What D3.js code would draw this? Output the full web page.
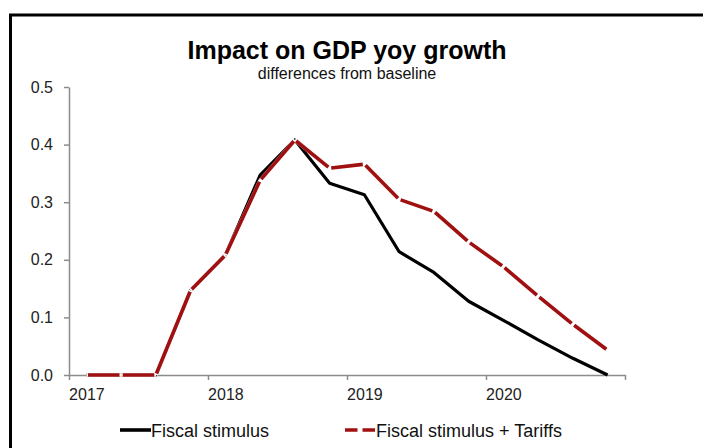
<!DOCTYPE html>
<html>
<head>
<meta charset="utf-8">
<script src="https://cdn.jsdelivr.net/npm/d3@7"></script>
<style>
  html, body { margin: 0; padding: 0; background: #fff; }
  svg { display: block; font-family: "Liberation Sans", Arial, sans-serif; }
</style>
</head>
<body>
<svg id="chart" width="703" height="448"></svg>
<script>
// ---- data ----
const quarters = [
  "2017Q1","2017Q2","2017Q3","2017Q4",
  "2018Q1","2018Q2","2018Q3","2018Q4",
  "2019Q1","2019Q2","2019Q3","2019Q4",
  "2020Q1","2020Q2","2020Q3","2020Q4"
];
const fiscalStimulus = [0, 0, 0, 0.147, 0.208, 0.347, 0.408, 0.333, 0.313, 0.214, 0.178, 0.128, 0.095, 0.061, 0.029, 0.0];
const fiscalTariffs  = [0, 0, 0, 0.147, 0.208, 0.338, 0.408, 0.359, 0.366, 0.305, 0.284, 0.231, 0.188, 0.137, 0.088, 0.043];
const yearTicks = [2017, 2018, 2019, 2020, 2021];
const yearLabels = ["2017", "2018", "2019", "2020", ""];
const yTicks = [0, 0.1, 0.2, 0.3, 0.4, 0.5];
const seriesNames = ["Fiscal stimulus", "Fiscal stimulus + Tariffs"];

const title = "Impact on GDP yoy growth";
const subtitle = "differences from baseline";

(function () {
// ---- layout ----
const svg = d3.select("#chart");
const plotLeft = 69, plotRight = 625, plotTop = 87, plotBottom = 375;
const red = "#a01010";
const axisColor = "#8c8c8c";

// frame
svg.append("rect")
  .attr("x", 10.5).attr("y", 15).attr("width", 800).attr("height", 500)
  .attr("fill", "none").attr("stroke", "#000").attr("stroke-width", 3);

// title
svg.append("text").attr("x", 347).attr("y", 59)
  .attr("text-anchor", "middle").attr("font-size", 25).attr("font-weight", "bold")
  .attr("fill", "#000").text(title);
svg.append("text").attr("x", 347).attr("y", 79)
  .attr("text-anchor", "middle").attr("font-size", 16).attr("fill", "#111").text(subtitle);

// scales
const x = d3.scaleLinear().domain([2017, 2021]).range([plotLeft, plotRight]);
const y = d3.scaleLinear().domain([0, 0.5]).range([plotBottom, plotTop]);
const xq = i => x(2017 + (i + 0.5) / 4);
const halfQ = (x(2018) - x(2017)) / 8;

// x axis
const gx = svg.append("g").attr("transform", `translate(0,${plotBottom})`)
  .call(d3.axisBottom(x).tickValues(yearTicks)
    .tickFormat((d, i) => yearLabels[i]).tickSizeInner(5).tickSizeOuter(0).tickPadding(9));
gx.select(".domain").attr("stroke", axisColor).attr("stroke-width", 1.5);
gx.selectAll(".tick line").attr("stroke", axisColor).attr("stroke-width", 1.5);
gx.selectAll(".tick text").attr("x", halfQ).attr("font-size", 16)
  .attr("font-family", "Liberation Sans, Arial, sans-serif").attr("fill", "#222");

// y axis
const gy = svg.append("g").attr("transform", `translate(${plotLeft},0)`)
  .call(d3.axisLeft(y).tickValues(yTicks).tickFormat(d3.format(".1f"))
    .tickSizeInner(5).tickSizeOuter(0).tickPadding(11));
gy.select(".domain").attr("stroke", axisColor).attr("stroke-width", 1.5);
gy.selectAll(".tick line").attr("stroke", axisColor).attr("stroke-width", 1.5);
gy.selectAll(".tick text").attr("font-size", 16)
  .attr("font-family", "Liberation Sans, Arial, sans-serif").attr("fill", "#222");

// black line
const line = d3.line().x((d, i) => xq(i)).y(d => y(d));
svg.append("path").datum(fiscalStimulus)
  .attr("d", line).attr("fill", "none").attr("stroke", "#000")
  .attr("stroke-width", 3.2).attr("stroke-linejoin", "round");

// red dashed line: white underlay so gaps read white, then segments with a small gap at each vertex
const segs = d3.range(fiscalTariffs.length - 1).map(i => ({
  x1: xq(i), y1: y(fiscalTariffs[i]), x2: xq(i + 1), y2: y(fiscalTariffs[i + 1])
}));
const redG = svg.append("g");
redG.selectAll("line.under").data(segs).join("line").attr("class", "under")
  .attr("x1", d => d.x1).attr("y1", d => d.y1)
  .attr("x2", d => d.x2).attr("y2", d => d.y2)
  .attr("stroke", "#fff").attr("stroke-width", 3.6);
redG.selectAll("line.seg").data(segs).join("line").attr("class", "seg")
  .attr("x1", d => d.x1).attr("y1", d => d.y1)
  .attr("x2", d => d.x2).attr("y2", d => d.y2)
  .attr("stroke", red).attr("stroke-width", 3.6)
  .attr("stroke-dasharray", d => {
    const len = Math.hypot(d.x2 - d.x1, d.y2 - d.y1);
    return `0,1.6,${Math.max(len - 3.2, 0)},1.6`;
  });

// legend
const lg = svg.append("g");
lg.append("line").attr("x1", 120).attr("x2", 151).attr("y1", 430).attr("y2", 430)
  .attr("stroke", "#000").attr("stroke-width", 3.6);
lg.append("text").attr("x", 151).attr("y", 436.5).attr("font-size", 18).attr("fill", "#111")
  .text(seriesNames[0]);
lg.append("line").attr("x1", 345).attr("x2", 376).attr("y1", 430).attr("y2", 430)
  .attr("stroke", red).attr("stroke-width", 3.6).attr("stroke-dasharray", "12.5,5");
lg.append("text").attr("x", 376).attr("y", 436.5).attr("font-size", 18).attr("fill", "#111")
  .text(seriesNames[1]);
})();
</script>
</body>
</html>
